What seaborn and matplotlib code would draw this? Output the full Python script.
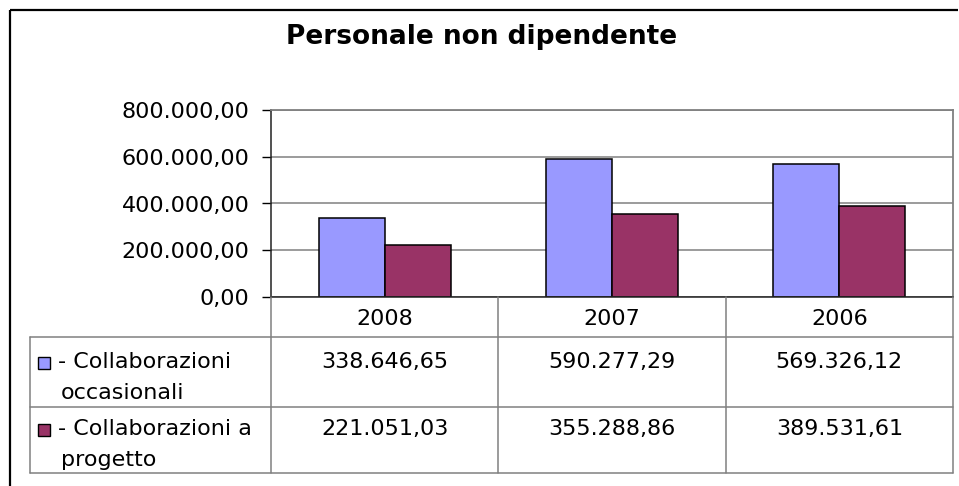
import numpy as np
import pandas as pd
import matplotlib
matplotlib.use("Agg")
import matplotlib.pyplot as plt
import seaborn as sns
from matplotlib.patches import Rectangle

# dati del grafico
anni = ['2008', '2007', '2006']
serie = ['- Collaborazioni\noccasionali', '- Collaborazioni a\nprogetto']
occasionali = [338646.65, 590277.29, 569326.12]
progetto = [221051.03, 355288.86, 389531.61]
colori = ['#9999FF', '#993366']
yticks = [0, 200000, 400000, 600000, 800000]
titolo = 'Personale non dipendente'


def fmt_it(v):
    s = f"{v:,.2f}"
    return s.replace(',', 'X').replace('.', ',').replace('X', '.')


df = pd.DataFrame({
    'anno': anni * 2,
    'valore': occasionali + progetto,
    'serie': [serie[0]] * 3 + [serie[1]] * 3,
})

sns.set_theme(style='white')
plt.rcParams['font.family'] = ['DejaVu Sans']
plt.rcParams['text.color'] = 'black'
plt.rcParams['ytick.color'] = 'black'
plt.rcParams['ytick.labelcolor'] = 'black'

W, H = 959, 486
fig = plt.figure(figsize=(W / 100, H / 100), dpi=100, facecolor='white')

# area del grafico (in pixel)
L, R, T, B = 271, 953, 110, 297
ax = fig.add_axes([L / W, 1 - B / H, (R - L) / W, (B - T) / H])
sns.barplot(data=df, x='anno', y='valore', hue='serie', palette=colori,
            width=0.58, gap=0, edgecolor='black', linewidth=1.1,
            saturation=1, legend=False, ax=ax)

ax.set_ylim(0, 800000)
ax.set_yticks(yticks)
ax.set_yticklabels([fmt_it(v) for v in yticks], fontsize=16, color='black')
ax.set_xlabel('')
ax.set_ylabel('')
ax.tick_params(axis='x', length=0, labelbottom=False)
ax.tick_params(axis='y', left=True, length=6.5, width=1.0, color='black', pad=9)
ax.yaxis.grid(True, color='#808080', lw=1.1)
ax.set_axisbelow(True)
for s in ['left', 'bottom']:
    ax.spines[s].set_color('#222222')
    ax.spines[s].set_linewidth(1.1)
for s in ['top', 'right']:
    ax.spines[s].set_color('#808080')
    ax.spines[s].set_linewidth(1.3)

# tabella dati sotto il grafico
tab = fig.add_axes([0, 0, 1, 1])
tab.set_xlim(0, W)
tab.set_ylim(H, 0)
tab.axis('off')

cols = np.linspace(L, R, len(anni) + 1)
centri = (cols[:-1] + cols[1:]) / 2
hdr_bot, righe_bot = 337, [407, 473]
tab_left = 30
grigio = '#808080'
lw_tab = 1.1

for x in cols:
    tab.plot([x, x], [B, righe_bot[-1]], color=grigio, lw=lw_tab)
for y in [hdr_bot] + righe_bot:
    tab.plot([tab_left, R], [y, y], color=grigio, lw=lw_tab)
tab.plot([tab_left, tab_left], [hdr_bot, righe_bot[-1]], color=grigio, lw=lw_tab)

for x, a in zip(centri, anni):
    tab.text(x, 319, a, ha='center', va='center', fontsize=16, color='black')

baselines = [368, 435]
for i, (nome, vals) in enumerate(zip(serie, [occasionali, progetto])):
    yb = baselines[i]
    tab.add_patch(Rectangle((38, yb - 11), 12, 12, facecolor=colori[i],
                            edgecolor='black', lw=1.0))
    for j, riga in enumerate(nome.split('\n')):
        tab.text(58 if j == 0 else 61, yb + j * 31, riga, ha='left',
                 va='baseline', fontsize=16, color='black')
    for x, v in zip(centri, vals):
        tab.text(x, yb, fmt_it(v), ha='center', va='baseline', fontsize=16,
                 color='black')

# titolo e bordo esterno
tab.text(482, 44, titolo, ha='center', va='baseline', fontsize=19,
         fontweight='bold', color='black')
tab.plot([10, 10], [10, H], color='black', lw=1.6, solid_capstyle='butt')
tab.plot([10, W - 1], [10, 10], color='black', lw=1.6, solid_capstyle='butt')

fig.savefig('out.png', dpi=100, facecolor='white')
